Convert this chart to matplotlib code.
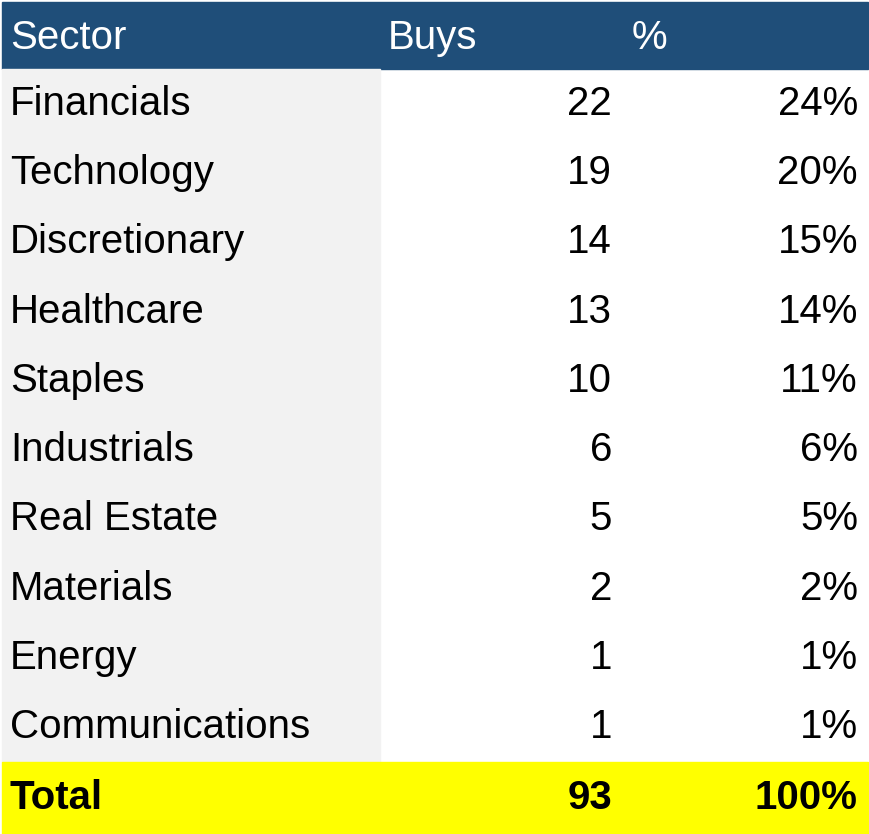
import matplotlib
matplotlib.use("Agg")
import matplotlib.pyplot as plt
from matplotlib.patches import Rectangle

headers = ["Sector", "Buys", "%"]
sectors = ["Financials", "Technology", "Discretionary", "Healthcare", "Staples",
           "Industrials", "Real Estate", "Materials", "Energy", "Communications"]
buys = [22, 19, 14, 13, 10, 6, 5, 2, 1, 1]
pcts = ["24%", "20%", "15%", "14%", "11%", "6%", "5%", "2%", "1%", "1%"]
total_label, total_buys, total_pct = "Total", 93, "100%"

fig = plt.figure(figsize=(8.7, 8.34), dpi=100)
ax = fig.add_axes([0, 0, 1, 1])
ax.set_xlim(0, 870); ax.set_ylim(834, 0); ax.axis("off")
fam = ["Liberation Sans", "DejaVu Sans"]
fs = 29

ax.add_patch(Rectangle((2, 2), 866, 67, color="#1F4E79"))
hx = [10, 388, 632]
for h, x in zip(headers, hx):
    ax.text(x, 38, h, color="white", fontsize=fs, family=fam, va="center", ha="left")

row_h = 69.3
y0 = 69
ax.add_patch(Rectangle((2, y0), 378, row_h * len(sectors), color="#F2F2F2"))
for i, (s, b, p) in enumerate(zip(sectors, buys, pcts)):
    yc = y0 + row_h * (i + 0.5)
    ax.text(10, yc, s, fontsize=fs, family=fam, va="center", ha="left")
    ax.text(612, yc, str(b), fontsize=fs, family=fam, va="center", ha="right")
    ax.text(858, yc, p, fontsize=fs, family=fam, va="center", ha="right")

ty = y0 + row_h * len(sectors)
ax.add_patch(Rectangle((2, ty), 866, 834 - ty, color="#FFFF00"))
yc = (ty + 834) / 2
for txt, x, ha in [(total_label, 10, "left"), (str(total_buys), 612, "right"), (total_pct, 858, "right")]:
    ax.text(x, yc, txt, fontsize=fs, family=fam, va="center", ha=ha, fontweight="bold")

fig.savefig("out.png", dpi=100)
